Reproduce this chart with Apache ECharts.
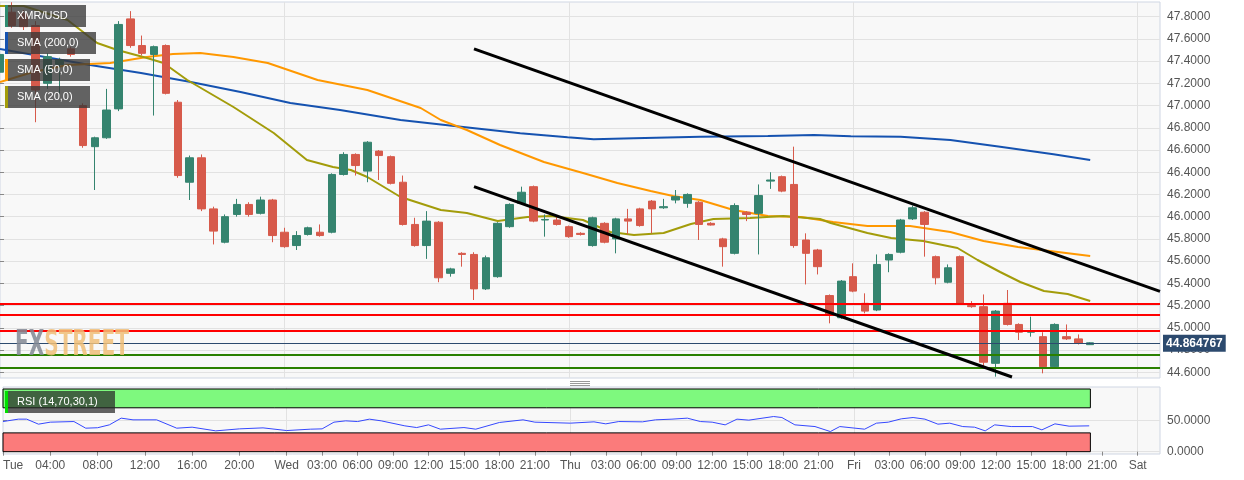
<!DOCTYPE html>
<html><head><meta charset="utf-8">
<script src="https://cdn.jsdelivr.net/npm/echarts@6/dist/echarts.min.js"></script>
<style>html,body{margin:0;padding:0;background:#fff}#c{width:1244px;height:480px}</style>
</head><body><div id="c"></div>
<script>
// ---- hourly candles (index = hours since Tue 00:00) ----
const openP  = [47.30,47.84,47.83,47.72,47.20,47.37,47.51,47.00,46.63,46.71,46.97,47.78,47.54,47.46,47.54,47.03,46.31,46.53,46.07,45.77,46.02,46.11,46.03,46.15,45.86,45.74,45.84,45.86,45.86,46.38,46.56,46.41,46.59,46.54,46.31,45.93,45.74,45.95,45.49,45.67,45.66,45.35,45.46,45.91,46.12,46.27,45.97,45.97,45.91,45.85,45.74,45.94,45.80,45.98,46.07,46.14,46.08,46.15,46.12,46.13,45.94,45.80,45.67,46.04,46.03,46.32,46.36,46.29,45.79,45.70,45.29,45.09,45.46,45.22,45.16,45.61,45.68,45.98,46.04,45.64,45.41,45.64,45.20,45.19,44.68,45.22,45.03,44.96,44.92,44.65,44.92,44.90,44.848];
const closeP = [47.46,47.72,47.71,47.14,47.44,47.41,47.46,46.64,46.71,46.96,47.73,47.54,47.47,47.53,47.11,46.37,46.53,46.07,45.87,46.00,46.11,46.02,46.15,45.83,45.73,45.83,45.90,45.83,46.38,46.56,46.46,46.67,46.55,46.30,45.93,45.74,45.96,45.45,45.53,45.66,45.35,45.63,45.94,46.11,46.22,45.96,45.975,45.93,45.82,45.84,45.99,45.77,45.98,45.96,45.92,46.07,46.09,46.18,46.20,45.93,45.925,45.73,46.10,46.02,46.19,46.33,46.23,45.74,45.67,45.55,45.12,45.42,45.33,45.15,45.57,45.66,45.97,46.08,45.93,45.45,45.54,45.22,45.19,44.69,45.15,45.03,44.96,44.97,44.65,45.03,44.90,44.86,44.864767];
const lowP   = [47.25,47.70,47.68,46.85,47.15,47.11,47.44,46.62,46.24,46.70,46.95,47.52,47.45,46.91,47.10,46.35,46.15,46.05,45.75,45.76,46.00,46.00,46.02,45.77,45.72,45.70,45.83,45.82,45.85,46.37,46.37,46.31,46.33,46.29,45.92,45.73,45.62,45.41,45.46,45.55,45.25,45.34,45.45,45.90,46.11,45.95,45.82,45.92,45.81,45.83,45.73,45.76,45.67,45.84,45.91,45.85,46.07,46.12,46.08,45.79,45.92,45.55,45.66,45.96,45.66,46.25,46.22,45.72,45.39,45.48,45.04,45.08,45.32,45.13,45.15,45.50,45.67,45.97,45.64,45.39,45.40,45.21,45.18,44.65,44.56,45.02,44.89,44.92,44.59,44.64,44.89,44.85,44.845];
const highP  = [47.50,47.93,47.86,47.76,47.47,47.43,47.53,47.02,46.72,47.15,47.76,47.85,47.63,47.54,47.55,47.05,46.55,46.56,46.09,46.02,46.16,46.13,46.18,46.16,45.90,45.87,45.91,45.93,46.39,46.58,46.57,46.68,46.60,46.55,46.37,45.99,46.05,45.96,45.54,45.68,45.68,45.65,45.95,46.12,46.27,46.28,46.02,46.00,45.92,45.86,46.00,45.95,45.99,46.07,46.08,46.15,46.16,46.24,46.21,46.14,45.95,45.81,46.12,46.05,46.29,46.40,46.37,46.63,45.85,45.71,45.30,45.43,45.58,45.31,45.66,45.67,45.98,46.10,46.05,45.65,45.57,45.65,45.24,45.30,45.16,45.34,45.04,45.10,44.96,45.04,45.03,44.94,44.87];

// ---- moving averages: [hour, price] ----
const sma200 = [[0,47.51],[7.6,47.365],[11.9,47.293],[16.1,47.212],[20.3,47.122],[24.5,47.023],[28.7,46.96],[33.8,46.87],[38.9,46.81],[43.9,46.75],[47.9,46.714],[50.1,46.696],[53.5,46.705],[59.1,46.72],[64.8,46.726],[68.7,46.735],[71.8,46.723],[76,46.72],[80.2,46.69],[84.4,46.63],[88.9,46.561],[92,46.51]];
const sma50 = [[0,47.212],[2.8,47.302],[5.7,47.365],[9.3,47.383],[12.4,47.437],[14.6,47.464],[16.9,47.473],[19.7,47.437],[22.6,47.383],[26.8,47.23],[31,47.14],[35.5,46.978],[37.2,46.87],[39.4,46.78],[42.2,46.645],[45.9,46.492],[49.2,46.393],[52.1,46.303],[54.9,46.231],[56.8,46.186],[59.1,46.15],[61.9,46.06],[64.8,46.006],[67.6,45.997],[70.3,45.952],[73.2,45.916],[76.8,45.916],[80.2,45.862],[83,45.781],[85.9,45.727],[88.6,45.691],[92,45.646]];
const sma20 = [[0,47.896],[2,47.896],[5.7,47.77],[8.2,47.563],[9.9,47.5],[12.4,47.428],[13.8,47.383],[15.8,47.23],[19.7,46.987],[23.1,46.753],[25.9,46.51],[28.1,46.447],[29.6,46.42],[31,46.357],[33.8,46.177],[37.2,46.06],[39.4,46.033],[42,45.961],[44.5,45.997],[46.5,46.006],[49.2,45.97],[51.5,45.862],[53.5,45.835],[56,45.853],[58.3,45.934],[60.2,45.979],[63.3,45.988],[66.1,46.006],[69.2,45.979],[70.1,45.943],[73.2,45.853],[75.2,45.808],[77.9,45.781],[80.8,45.718],[82.5,45.61],[84.4,45.502],[86.1,45.412],[88.1,45.331],[90.1,45.304],[92,45.241]];

// ---- RSI (14): [hour, value] ----
const rsi = [[0,48.1],[1.3,51.9],[2,51.9],[3,43.9],[4,47.1],[6,48.1],[7,37.5],[8,38.2],[9,42.8],[10,53.5],[11,50.8],[13,50.8],[14.7,37.5],[16,39.1],[18,33.2],[20,36.4],[22,38],[24,33.7],[26,35.9],[27,36.4],[28,47.1],[29,49.2],[30,48.1],[31,51.9],[32,49.2],[34,41.2],[35,38.5],[36,42.8],[37,35.9],[39,38.5],[40,35.9],[42,46.6],[44,50.8],[45,47.1],[48,45.5],[50,47.6],[51,44.4],[52.1,48.1],[54.1,47.6],[55.2,50.8],[56.6,51.9],[57.9,53.5],[59,48.1],[60,47.1],[61.1,42.8],[62.1,51.9],[63.1,50.3],[65.2,56.1],[65.9,54.5],[67,42.8],[68.7,40.1],[70,32.1],[70.8,40.1],[72.9,35.9],[73.9,45.5],[74.9,47.1],[76,52.4],[77,54.5],[78,51.9],[79.1,43.9],[80.1,45.5],[81.2,40.1],[82.2,39.1],[83.1,33.2],[83.9,42.8],[85.3,40.1],[87.1,40.1],[87.9,34.8],[89,44.4],[90.2,40.7],[91.9,41.2]];

// ---- drawn trend lines and levels ----
const upperTrend = [[40.0,47.51],[97.89,45.327]];
const lowerTrend = [[40.0,46.27],[85.4,44.557]];
const resistLevels = [45.223, 45.118, 44.965];
const supportLevels = [44.758, 44.638];
const lastPrice = 44.864767;

// ---- axis ticks ----
const priceTicks = [44.6,44.8,45.0,45.2,45.4,45.6,45.8,46.0,46.2,46.4,46.6,46.8,47.0,47.2,47.4,47.6,47.8];
const rsiTicks = [0,50];
const dayTicks = [24,48,72,96];
const timeTicks = [0,4,8,12,16,20,24,27,30,33,36,39,42,45,48,51,54,57,60,63,66,69,72,75,78,81,84,87,90,93,96];
const timeLabels = ['Tue','04:00','08:00','12:00','16:00','20:00','Wed','03:00','06:00','09:00','12:00','15:00','18:00','21:00','Thu','03:00','06:00','09:00','12:00','15:00','18:00','21:00','Fri','03:00','06:00','09:00','12:00','15:00','18:00','21:00','Sat'];

const XMIN = 0, XMAX = 1160/11.85;
const candleData = openP.map((o,i)=>[i,o,closeP[i],lowP[i],highP[i]]);
const GREEN = '#35846f', RED = '#d75a4b';
const FONT = '"Liberation Sans", Arial, sans-serif';
const axisText = {color:'#555', fontSize:12, fontFamily:FONT};

const chart = echarts.init(document.getElementById('c'), null, {renderer:'canvas'});

function legendBox(x, y, w, text, color, bg){
  return [
    {type:'rect', z:100, shape:{x:x,y:y,width:w,height:22}, style:{fill:bg}},
    {type:'rect', z:101, shape:{x:x,y:y,width:3,height:22}, style:{fill:color}},
    {type:'text', z:102, x:x+12, y:y+11, style:{text:text, fill:'#fff', font:'11px ' + FONT, textVerticalAlign:'middle'}}
  ];
}

chart.setOption({
  animation:false,
  backgroundColor:'#ffffff',
  grid:[
    {left:0, top:2, width:1160, height:376, show:true, backgroundColor:'#f8f8f8', borderColor:'#cfd6e3', borderWidth:1},
    {left:0, top:387, width:1160, height:67, show:true, backgroundColor:'#f8f8f8', borderColor:'#cfd6e3', borderWidth:1}
  ],
  xAxis:[
    {type:'value', gridIndex:0, min:XMIN, max:XMAX, axisLine:{show:false}, axisTick:{show:false, customValues:dayTicks}, axisLabel:{show:false, customValues:dayTicks}, splitLine:{show:true, lineStyle:{color:'#e2e2e2'}}},
    {type:'value', gridIndex:1, min:XMIN, max:XMAX, axisLine:{show:false},
      axisTick:{show:true, customValues:timeTicks, length:4, lineStyle:{color:'#888'}},
      axisLabel:Object.assign({customValues:timeTicks, margin:6, alignMinLabel:'left', formatter:v=>timeLabels[timeTicks.indexOf(Math.round(v))]}, axisText),
      splitLine:{show:false}},
    {type:'value', gridIndex:1, min:XMIN, max:XMAX, axisLine:{show:false}, axisTick:{show:false, customValues:dayTicks}, axisLabel:{show:false, customValues:dayTicks}, splitLine:{show:true, lineStyle:{color:'#e2e2e2'}}}
  ],
  yAxis:[
    {type:'value', gridIndex:0, position:'right', min:44.548, max:47.932, axisLine:{show:false},
      axisTick:{show:true, customValues:priceTicks, length:4, lineStyle:{color:'#888'}},
      axisLabel:Object.assign({customValues:priceTicks, margin:7, formatter:v=>v.toFixed(4)}, axisText),
      splitLine:{show:true, lineStyle:{color:'#e2e2e2'}}},
    {type:'value', gridIndex:1, position:'right', min:-3.7, max:103.2, axisLine:{show:false},
      axisTick:{show:true, customValues:rsiTicks, length:4, lineStyle:{color:'#888'}},
      axisLabel:Object.assign({customValues:rsiTicks, margin:7, formatter:v=>v.toFixed(4)}, axisText),
      splitLine:{show:true, lineStyle:{color:'#e2e2e2'}}}
  ],
  series:[
    {type:'line', name:'SMA (200,0)', xAxisIndex:0, yAxisIndex:0, data:sma200, showSymbol:false, lineStyle:{color:'#1552b0', width:2}, z:3},
    {type:'line', name:'SMA (50,0)', xAxisIndex:0, yAxisIndex:0, data:sma50, showSymbol:false, lineStyle:{color:'#ff9800', width:2}, z:3},
    {type:'line', name:'SMA (20,0)', xAxisIndex:0, yAxisIndex:0, data:sma20, showSymbol:false, lineStyle:{color:'#a39c0a', width:2}, z:3},
    {type:'candlestick', name:'XMR/USD', xAxisIndex:0, yAxisIndex:0, data:candleData, encode:{x:0, y:[1,2,3,4]}, barWidth:8, z:4,
      itemStyle:{color:GREEN, color0:RED, borderColor:GREEN, borderColor0:RED, borderWidth:1},
      markLine:{silent:true, symbol:['none','none'], animation:false,
        data:[
          ...resistLevels.map(v=>({yAxis:v, lineStyle:{color:'#ff0000', width:2, type:'solid'}, label:{show:false}})),
          ...supportLevels.map(v=>({yAxis:v, lineStyle:{color:'#2a8000', width:2, type:'solid'}, label:{show:false}})),
          {yAxis:lastPrice, lineStyle:{color:'#2c4a6e', width:1, type:'solid'},
            label:{show:true, position:'end', distance:3, formatter:'44.864767', color:'#fff', fontWeight:'bold', fontSize:12, fontFamily:FONT, backgroundColor:'#2c4a6e', padding:[3,3,2,3]}}
        ]}},
    {type:'line', xAxisIndex:0, yAxisIndex:0, data:upperTrend, showSymbol:false, lineStyle:{color:'#000', width:3}, z:6},
    {type:'line', xAxisIndex:0, yAxisIndex:0, data:lowerTrend, showSymbol:false, lineStyle:{color:'#000', width:3}, z:6},
    {type:'line', name:'RSI', xAxisIndex:1, yAxisIndex:1, data:rsi, showSymbol:false, lineStyle:{color:'#3548ff', width:1}, z:5,
      markArea:{silent:true, data:[
        [{xAxis:0, yAxis:70, itemStyle:{color:'#7ef97e', borderColor:'#000', borderWidth:1}},{xAxis:92, yAxis:100}],
        [{xAxis:0, yAxis:0, itemStyle:{color:'#fb7b7b', borderColor:'#000', borderWidth:1}},{xAxis:92, yAxis:30}]
      ]}}
  ],
  graphic:[
    ...legendBox(5, 5, 81, 'XMR/USD', '#2e8b70', 'rgba(55,55,55,0.78)'),
    ...legendBox(5, 32, 91, 'SMA (200,0)', '#1552b0', 'rgba(55,55,55,0.78)'),
    ...legendBox(5, 59, 85, 'SMA (50,0)', '#ff9800', 'rgba(55,55,55,0.78)'),
    ...legendBox(5, 86, 85, 'SMA (20,0)', '#a39c0a', 'rgba(55,55,55,0.78)'),
    ...legendBox(5, 391, 110, 'RSI (14,70,30,1)', '#00e000', 'rgba(40,40,40,0.72)'),
    {type:'text', z:50, x:15, y:328, scaleX:0.62, style:{rich:{fx:{fill:'rgba(130,136,148,0.85)'}, st:{fill:'rgba(240,190,120,0.85)'}}, text:'{fx|FX}{st|STREET}', font:'bold 36px "DejaVu Sans Condensed", "DejaVu Sans", sans-serif'}},
    {type:'line', z:100, shape:{x1:570,y1:381.5,x2:590,y2:381.5}, style:{stroke:'#999', lineWidth:1}},
    {type:'line', z:100, shape:{x1:570,y1:383.5,x2:590,y2:383.5}, style:{stroke:'#999', lineWidth:1}},
    {type:'line', z:100, shape:{x1:570,y1:385.5,x2:590,y2:385.5}, style:{stroke:'#999', lineWidth:1}}
  ]
});
</script></body></html>
